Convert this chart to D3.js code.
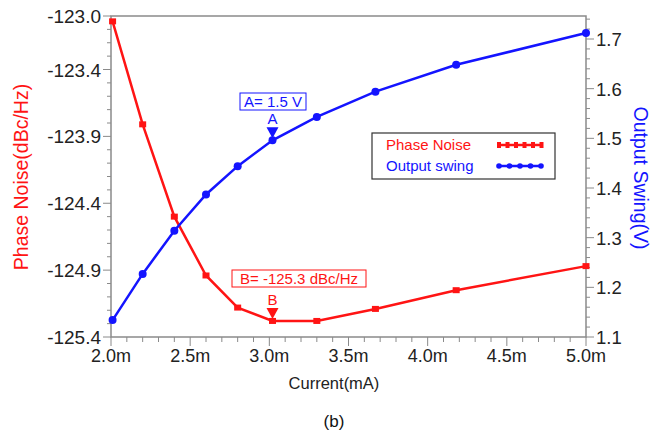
<!DOCTYPE html>
<html>
<head>
<meta charset="utf-8">
<script src="https://cdn.jsdelivr.net/npm/d3@7"></script>
<style>
  body { margin: 0; background: #fff; }
  text { font-family: "Liberation Sans", Arial, sans-serif; }
</style>
</head>
<body>
<script>
var svgWidth = 667
var svgHeight = 433

// data
var current = [2.01, 2.2, 2.4, 2.6, 2.8, 3.02, 3.3, 3.67, 4.18, 5.0]
var phaseNoise = [-123.04, -123.81, -124.50, -124.94, -125.18, -125.28, -125.28, -125.19, -125.05, -124.87]
var outputSwing = [1.134, 1.227, 1.314, 1.387, 1.444, 1.496, 1.543, 1.594, 1.648, 1.712]
var xTickLabels = [2.0, 2.5, 3.0, 3.5, 4.0, 4.5, 5.0]
var leftTickLabels = [-123.0, -123.4, -123.9, -124.4, -124.9, -125.4]
var rightTickLabels = [1.1, 1.2, 1.3, 1.4, 1.5, 1.6, 1.7]

var red = '#ff1414'
var blue = '#1414ff'
var axisColor = '#8a8a8a'
var textColor = '#222'

var plotLeft = 111, plotRight = 586, plotTop = 16, plotBottom = 337

var svg = d3.select('body').append('svg')
  .attr('width', svgWidth)
  .attr('height', svgHeight)

var x = d3.scaleLinear().domain([2.0, 5.0]).range([plotLeft, plotRight])
var yLeft = d3.scaleLinear().domain([-125.4, -123.0]).range([plotBottom, plotTop])
var yRight = d3.scaleLinear().domain([1.1, 1.7]).range([plotBottom, 39])

// frame
svg.append('rect')
  .attr('x', plotLeft).attr('y', plotTop)
  .attr('width', plotRight - plotLeft).attr('height', plotBottom - plotTop)
  .attr('fill', 'none')
  .attr('stroke', axisColor)
  .attr('stroke-width', 1.5)

// minor ticks
var xMinor = d3.range(20, 51).map(d => d / 10)
var leftMinor = d3.range(-1254, -1229).map(d => d / 10)
var rightMinor = d3.range(55, 88).map(d => d / 50)

var ticks = svg.append('g').attr('stroke', axisColor).attr('stroke-width', 1)

ticks.selectAll('.xm').data(xMinor).enter().append('line')
  .attr('x1', d => x(d)).attr('x2', d => x(d))
  .attr('y1', plotBottom).attr('y2', d => plotBottom + (Math.abs(d * 2 - Math.round(d * 2)) < 1e-6 ? 9 : 5))

ticks.selectAll('.lm').data(leftMinor).enter().append('line')
  .attr('y1', d => yLeft(d)).attr('y2', d => yLeft(d))
  .attr('x1', plotLeft).attr('x2', d => plotLeft - (leftTickLabels.some(v => Math.abs(v - d) < 1e-6) ? 8 : 4))

ticks.selectAll('.rm').data(rightMinor).enter().append('line')
  .attr('y1', d => yRight(d)).attr('y2', d => yRight(d))
  .attr('x1', plotRight).attr('x2', d => plotRight + (Math.abs(d * 10 - Math.round(d * 10)) < 1e-6 ? 8 : 4))

// tick labels
svg.append('g').selectAll('text').data(xTickLabels).enter().append('text')
  .attr('x', d => x(d)).attr('y', 362)
  .attr('text-anchor', 'middle')
  .attr('font-size', 18)
  .attr('fill', textColor)
  .text(d => d.toFixed(1) + 'm')

svg.append('g').selectAll('text').data(leftTickLabels).enter().append('text')
  .attr('x', 101).attr('y', d => yLeft(d) + 7)
  .attr('text-anchor', 'end')
  .attr('font-size', 19)
  .attr('fill', textColor)
  .text(d => d.toFixed(1))

svg.append('g').selectAll('text').data(rightTickLabels).enter().append('text')
  .attr('x', 596).attr('y', d => yRight(d) + 7)
  .attr('font-size', 18.5)
  .attr('fill', textColor)
  .text(d => d.toFixed(1))

// axis titles
svg.append('text')
  .attr('transform', 'translate(28,177) rotate(-90)')
  .attr('text-anchor', 'middle')
  .attr('font-size', 19.5)
  .attr('fill', red)
  .text('Phase Noise(dBc/Hz)')

svg.append('text')
  .attr('transform', 'translate(634,178) rotate(90)')
  .attr('text-anchor', 'middle')
  .attr('font-size', 19.5)
  .attr('fill', blue)
  .text('Output Swing(V)')

svg.append('text')
  .attr('x', 334).attr('y', 389)
  .attr('text-anchor', 'middle')
  .attr('font-size', 16.5)
  .attr('fill', textColor)
  .text('Current(mA)')

svg.append('text')
  .attr('x', 334).attr('y', 427)
  .attr('text-anchor', 'middle')
  .attr('font-size', 17)
  .attr('font-family', '"Liberation Serif", "Times New Roman", serif')
  .attr('fill', '#111')
  .text('(b)')

// series
var redLine = d3.line().x((d, i) => x(current[i])).y(d => yLeft(d))
var blueLine = d3.line().x((d, i) => x(current[i])).y(d => yRight(d))

svg.append('path')
  .attr('d', redLine(phaseNoise))
  .attr('fill', 'none').attr('stroke', red).attr('stroke-width', 2.5)

svg.append('g').selectAll('rect').data(phaseNoise).enter().append('rect')
  .attr('x', (d, i) => x(current[i]) - 3.5)
  .attr('y', d => yLeft(d) - 3)
  .attr('width', 7).attr('height', 6)
  .attr('fill', red)

svg.append('path')
  .attr('d', blueLine(outputSwing))
  .attr('fill', 'none').attr('stroke', blue).attr('stroke-width', 2.5)

svg.append('g').selectAll('circle').data(outputSwing).enter().append('circle')
  .attr('cx', (d, i) => x(current[i]))
  .attr('cy', d => yRight(d))
  .attr('r', 4)
  .attr('fill', blue)

// markers A and B
var ax = x(current[5]), ay = yRight(outputSwing[5])
svg.append('path')
  .attr('d', 'M' + (ax - 6) + ',' + (ay - 13) + 'H' + (ax + 6) + 'L' + ax + ',' + (ay - 2) + 'Z')
  .attr('fill', blue)
svg.append('text')
  .attr('x', ax).attr('y', ay - 16)
  .attr('text-anchor', 'middle').attr('font-size', 15).attr('fill', blue)
  .text('A')
svg.append('rect')
  .attr('x', 240).attr('y', 93).attr('width', 66).attr('height', 17)
  .attr('fill', '#fff').attr('stroke', blue).attr('stroke-width', 1)
svg.append('text')
  .attr('x', 273).attr('y', 107)
  .attr('text-anchor', 'middle').attr('font-size', 15).attr('fill', blue)
  .text('A= 1.5 V')

var bx = x(current[5]), by = yLeft(phaseNoise[5])
svg.append('path')
  .attr('d', 'M' + (bx - 6) + ',' + (by - 13) + 'H' + (bx + 6) + 'L' + bx + ',' + (by - 2) + 'Z')
  .attr('fill', red)
svg.append('text')
  .attr('x', bx).attr('y', by - 16)
  .attr('text-anchor', 'middle').attr('font-size', 15).attr('fill', red)
  .text('B')
svg.append('rect')
  .attr('x', 232).attr('y', 270).attr('width', 134).attr('height', 17)
  .attr('fill', '#fff').attr('stroke', red).attr('stroke-width', 1)
svg.append('text')
  .attr('x', 299).attr('y', 284)
  .attr('text-anchor', 'middle').attr('font-size', 15).attr('fill', red)
  .text('B= -125.3 dBc/Hz')

// legend
var legend = svg.append('g')
legend.append('rect')
  .attr('x', 372).attr('y', 133).attr('width', 183).attr('height', 46)
  .attr('fill', '#fff').attr('stroke', '#333').attr('stroke-width', 1.2)

var legendItems = [
  { 'label': 'Phase Noise', 'color': red, 'y': 150 },
  { 'label': 'Output swing', 'color': blue, 'y': 171 }
]

legend.selectAll('text').data(legendItems).enter().append('text')
  .attr('x', 386).attr('y', d => d.y)
  .attr('font-size', 15)
  .attr('fill', d => d.color)
  .text(d => d.label)

legend.selectAll('line').data(legendItems).enter().append('line')
  .attr('x1', 497).attr('x2', 543)
  .attr('y1', d => d.y - 5).attr('y2', d => d.y - 5)
  .attr('stroke', d => d.color).attr('stroke-width', 2.5)

var legendMarks = d3.range(6).map(i => 499 + i * 8.5)
legend.selectAll('.pm').data(legendMarks).enter().append('rect')
  .attr('x', d => d - 2).attr('y', 142).attr('width', 4).attr('height', 6)
  .attr('fill', red)
legend.selectAll('.sm').data(d3.range(5).map(i => 499 + i * 10.5)).enter().append('circle')
  .attr('cx', d => d).attr('cy', 166).attr('r', 2.8)
  .attr('fill', blue)
</script>
</body>
</html>
